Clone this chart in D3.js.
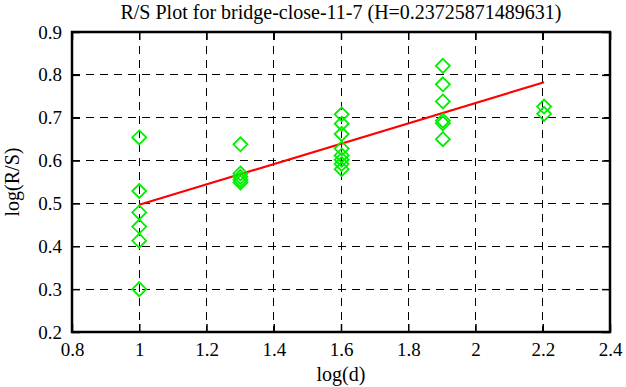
<!DOCTYPE html>
<html><head><meta charset="utf-8">
<script src="https://cdn.jsdelivr.net/npm/d3@7"></script>
<style>body{margin:0;background:#fff}svg{display:block}svg text{font-family:"Liberation Serif","Times New Roman",serif !important;fill:#000}</style>
</head><body><svg id="c" width="626" height="387"></svg>
<script>
const title = "R/S Plot for bridge-close-11-7 (H=0.23725871489631)";
const xTicks = [0.8,1,1.2,1.4,1.6,1.8,2,2.2,2.4];
const yTicks = [0.2,0.3,0.4,0.5,0.6,0.7,0.8,0.9];
const pointX = [1,1,1,1,1,1,
  1.301,1.301,1.301,1.301,1.301,
  1.602,1.602,1.602,1.602,1.602,1.602,1.602,1.602,
  1.903,1.903,1.903,1.903,1.903,1.903,
  2.204,2.204];
const pointY = [0.654,0.529,0.479,0.446,0.413,0.300,
  0.638,0.570,0.562,0.555,0.549,
  0.708,0.686,0.662,0.628,0.612,0.602,0.592,0.580,
  0.821,0.778,0.738,0.693,0.687,0.650,
  0.726,0.709];
const fitX = [1, 2.204];
const H = 0.23725871489631;
const fitIntercept = 0.2597;

const svg = d3.select("#c");
const L=72,R=610,T=32,B=332;
const x = d3.scaleLinear().domain([0.8,2.4]).range([L,R]);
const y = d3.scaleLinear().domain([0.2,0.9]).range([B,T]);

// grid
const g = svg.append("g");
g.selectAll("line.vx").data(xTicks.slice(1,-1)).enter().append("line")
  .attr("x1",d=>x(d)).attr("x2",d=>x(d)).attr("y1",T).attr("y2",B)
  .attr("stroke","#000").attr("stroke-width",1).attr("stroke-dasharray","8,6").attr("shape-rendering","crispEdges");
g.selectAll("line.hy").data(yTicks.slice(1,-1)).enter().append("line")
  .attr("y1",d=>y(d)).attr("y2",d=>y(d)).attr("x1",L).attr("x2",R)
  .attr("stroke","#000").attr("stroke-width",1).attr("stroke-dasharray","8,6").attr("shape-rendering","crispEdges");

// axes
const ax = (sel)=>{sel.attr("font-family","Liberation Serif").attr("font-size",19);sel.select(".domain").remove();sel.selectAll("line").attr("stroke-width",1.5);};
svg.append("g").attr("transform",`translate(0,${B})`)
  .call(d3.axisBottom(x).tickValues(xTicks).tickSize(-8).tickPadding(11).tickFormat(d3.format("")))
  .call(ax);
svg.append("g").attr("transform",`translate(0,${T})`)
  .call(d3.axisTop(x).tickValues(xTicks).tickSize(-8).tickFormat(""))
  .call(ax);
svg.append("g").attr("transform",`translate(${L},0)`)
  .call(d3.axisLeft(y).tickValues(yTicks).tickSize(-8).tickPadding(10).tickFormat(d3.format("")))
  .call(ax);
svg.append("g").attr("transform",`translate(${R},0)`)
  .call(d3.axisRight(y).tickValues(yTicks).tickSize(-8).tickFormat(""))
  .call(ax);

svg.append("rect").attr("x",L).attr("y",T).attr("width",R-L).attr("height",B-T)
  .attr("fill","none").attr("stroke","#000").attr("stroke-width",2.5);

// fit line
svg.append("line")
  .attr("x1",x(fitX[0])).attr("y1",y(fitIntercept+H*fitX[0]))
  .attr("x2",x(fitX[1])).attr("y2",y(fitIntercept+H*fitX[1]))
  .attr("stroke","#ff0000").attr("stroke-width",2.2);

// points
const s=7;
svg.append("g").selectAll("path").data(pointX.map((d,i)=>[d,pointY[i]])).enter().append("path")
  .attr("d",d=>{const cx=x(d[0]),cy=y(d[1]);return `M${cx},${cy-s}L${cx+s},${cy}L${cx},${cy+s}L${cx-s},${cy}Z`;})
  .attr("fill","none").attr("stroke","#00ee00").attr("stroke-width",1.8);

svg.append("text").attr("x",341).attr("y",19).attr("text-anchor","middle").style("font-size","20px").text(title);
svg.append("text").attr("x",341).attr("y",381).attr("text-anchor","middle").style("font-size","20px").text("log(d)");
svg.append("text").attr("transform","translate(19,182) rotate(-90)").attr("text-anchor","middle").style("font-size","20px").text("log(R/S)");
</script></body></html>
